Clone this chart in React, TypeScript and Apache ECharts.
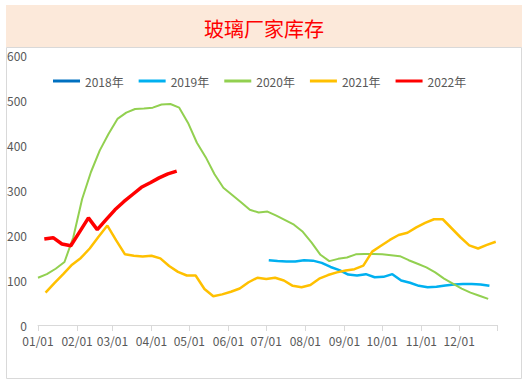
import React, { useEffect, useRef } from "react";
import * as echarts from "echarts";

const titleText = "玻璃厂家库存";
const seriesNames = ["2018年", "2019年", "2020年", "2021年", "2022年"];
const seriesColors = ["#0070C0", "#00B0F0", "#92D050", "#FFC000", "#FF0000"];
const monthLabels = ["01/01", "02/01", "03/01", "04/01", "05/01", "06/01", "07/01", "08/01", "09/01", "10/01", "11/01", "12/01"];
const monthStartDays = [0, 31, 59, 90, 120, 151, 181, 212, 243, 273, 304, 334];
const lastDay = 364;
const yTicks = [0, 100, 200, 300, 400, 500, 600];

// weekly values, first point's day-of-year offset
const start2018 = 0;
const values2018: number[] = [];
const start2019 = 183;
const values2019 = [144, 142, 141, 141, 144, 143, 138, 129, 122, 112, 110, 113, 106, 107, 113, 99, 94, 87, 84, 85, 88, 90, 91, 91, 90, 87];
const start2020 = 0;
const values2020 = [105, 113, 125, 140, 195, 280, 340, 388, 425, 458, 472, 480, 481, 483, 490, 491, 483, 449, 405, 373, 335, 305, 289, 273, 256, 250, 252, 243, 233, 223, 207, 183, 156, 142, 147, 150, 157, 158, 158, 157, 155, 153, 144, 136, 128, 117, 103, 92, 81, 72, 65, 58];
const start2021 = 6;
const values2021 = [72, 93, 113, 134, 149, 170, 196, 221, 188, 157, 154, 152, 154, 148, 131, 118, 110, 110, 80, 64, 68, 74, 81, 95, 105, 102, 105, 99, 87, 84, 89, 103, 111, 117, 121, 124, 132, 163, 176, 189, 200, 205, 217, 227, 235, 235, 215, 195, 177, 170, 178, 185];
const start2022 = 5;
const values2022 = [191, 194, 180, 176, 207, 238, 212, 234, 256, 274, 290, 306, 316, 327, 336, 342];

const seriesStarts = [start2018, start2019, start2020, start2021, start2022];
const seriesValues = [values2018, values2019, values2020, values2021, values2022];
const lineWidths = [2.5, 2.5, 2, 2.5, 3.5];

function pad(n: number) {
  return n < 10 ? "0" + n : "" + n;
}

const categories: string[] = [];
for (let d = 0; d <= lastDay; d++) {
  const dt = new Date(2022, 0, 1 + d);
  categories.push(pad(dt.getMonth() + 1) + "/" + pad(dt.getDate()));
}

export default function App() {
  const ref = useRef<HTMLDivElement>(null);
  useEffect(() => {
    if (!ref.current) return;
    const chart = echarts.init(ref.current, undefined, { renderer: "svg" });
    const labelSet = new Set(monthStartDays);
    const series = seriesNames.map((name, k) => ({
      name,
      type: "line",
      symbol: "none",
      smooth: false,
      z: k + 2,
      lineStyle: { color: seriesColors[k], width: lineWidths[k] },
      itemStyle: { color: seriesColors[k] },
      data: seriesValues[k].map((v, i) => [seriesStarts[k] + 7 * i, v]),
    }));
    chart.setOption({
      animation: false,
      backgroundColor: "#ffffff",
      title: {
        text: titleText,
        left: "center",
        top: 13,
        textStyle: { color: "#FF0000", fontSize: 20, fontWeight: "normal", fontFamily: "Noto Sans CJK SC" },
      },
      graphic: [
        { type: "rect", shape: { x: 6, y: 5, width: 516, height: 42 }, style: { fill: "#FCE9DA" }, z: -10, silent: true },
        { type: "rect", shape: { x: 6.5, y: 47.5, width: 515, height: 331 }, style: { fill: "none", stroke: "#D9D9D9", lineWidth: 1 }, z: -10, silent: true },
      ],
      legend: {
        top: 70,
        left: 48,
        icon: "rect",
        itemWidth: 27,
        itemHeight: 3,
        itemGap: 15,
        textStyle: { color: "#595959", fontSize: 12, fontFamily: "Noto Sans CJK SC" },
        data: seriesNames,
      },
      grid: { left: 38, right: 31, top: 55, bottom: 58, containLabel: false },
      xAxis: {
        type: "category",
        boundaryGap: false,
        data: categories,
        axisLine: { lineStyle: { color: "#D9D9D9", width: 1 } },
        axisTick: {
          show: true,
          length: 6,
          lineStyle: { color: "#D9D9D9" },
          interval: (index: number) => labelSet.has(index) || index === lastDay,
        },
        axisLabel: {
          color: "#595959",
          fontSize: 12,
          margin: 9,
          fontFamily: "Noto Sans CJK SC",
          interval: (index: number) => labelSet.has(index),
          formatter: (value: string) => {
            const idx = monthLabels.indexOf(value);
            return idx >= 0 ? monthLabels[idx] : "";
          },
        },
        splitLine: { show: false },
      },
      yAxis: {
        type: "value",
        min: yTicks[0],
        max: yTicks[yTicks.length - 1],
        interval: 100,
        axisLine: { show: false },
        axisTick: { show: false },
        splitLine: { show: false },
        axisLabel: { color: "#595959", fontSize: 12, margin: 11, fontFamily: "Noto Sans CJK SC" },
      },
      series,
    });
    return () => chart.dispose();
  }, []);
  return (
    <div
      ref={ref}
      style={{ position: "fixed", left: 0, top: 0, width: 528, height: 383 }}
    />
  );
}
